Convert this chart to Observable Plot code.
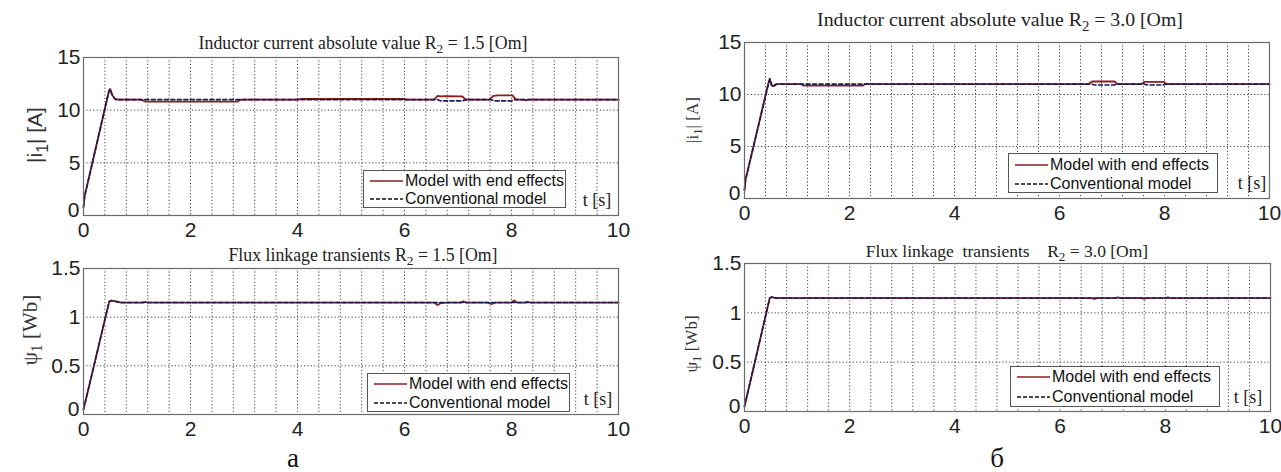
<!DOCTYPE html>
<html>
<head>
<meta charset="utf-8">
<script src="https://cdn.jsdelivr.net/npm/d3@7"></script>
<script src="https://cdn.jsdelivr.net/npm/@observablehq/plot@0.6"></script>
<style>
  html, body { margin: 0; padding: 0; background: #fff; }
  #root { position: relative; width: 1281px; height: 472px; overflow: hidden; background: #fff; }
  .panel { position: absolute; }
  .title { position: absolute; font-family: "Liberation Serif", serif; font-size: 17.8px; color: #222; white-space: pre; transform: translate(-50%, -50%); }
  .title sub, .ylab sub { font-size: 0.75em; vertical-align: -0.35em; line-height: 0; }
  .ylab { position: absolute; font-size: 21px; color: #333; white-space: pre; transform: translate(-50%, -50%) rotate(-90deg); }
  .legend { position: absolute; background: #fff; border: 1px solid #555; box-sizing: border-box; font-family: "Liberation Sans", Arial, sans-serif; font-size: 16px; color: #111; }
  .legend .row { position: absolute; left: 6px; display: flex; align-items: center; white-space: pre; }
  .legend svg { margin-right: 2px; }
  .tlab { position: absolute; font-family: "Liberation Serif", serif; font-size: 18px; color: #222; transform: translate(-50%, -50%); white-space: pre; }
  .sub { position: absolute; font-family: "Liberation Serif", serif; font-size: 27px; color: #111; transform: translate(-50%, -50%); }
</style>
</head>
<body>
<div id="root"></div>
<script>
// ---------- data ----------
const xTicks = [0, 2, 4, 6, 8, 10];
const xGrid = [0.4, 0.8, 1.2, 1.6, 2, 2.4, 2.8, 3.2, 3.6, 4, 4.4, 4.8, 5.2, 5.6, 6, 6.4, 6.8, 7.2, 7.6, 8, 8.4, 8.8, 9.2, 9.6];
const curTicks = [0, 5, 10, 15];
const curGrid = [5, 10];
const fluxTicks = [0, 0.5, 1, 1.5];
const fluxGrid = [0.5, 1];
const seriesNames = ["Model with end effects", "Conventional model"];

// Panel a (R2 = 1.5), inductor current
const tA_curEnd = [0, 0.02, 0.47, 0.5, 0.53, 0.58, 0.65, 1.08, 1.15, 2.88, 2.95, 4.0, 4.05, 6.0, 6.05, 6.55, 6.62, 6.68, 6.75, 7.08, 7.15, 7.58, 7.66, 7.75, 8.02, 8.08, 8.22, 8.27, 8.32, 10];
const iA_curEnd = [0.8, 1.8, 11.7, 12.0, 11.5, 11.1, 11.0, 11.0, 10.82, 10.82, 11.0, 11.0, 11.06, 11.06, 11.0, 11.0, 11.35, 11.3, 11.32, 11.3, 11.0, 11.0, 11.35, 11.4, 11.4, 11.0, 11.0, 10.93, 11.0, 11.0];
const tA_curConv = [0, 0.02, 0.48, 0.5, 0.54, 0.6, 6.62, 6.68, 7.08, 7.15, 7.62, 7.68, 8.0, 8.06, 10];
const iA_curConv = [0.8, 1.8, 11.9, 12.0, 11.4, 11.0, 11.0, 10.88, 10.88, 11.0, 11.0, 10.88, 10.88, 11.0, 11.0];

// Panel a (R2 = 1.5), flux linkage
const tA_fluxEnd = [0, 0.48, 0.52, 0.58, 0.7, 1.1, 1.15, 1.2, 4.0, 6.55, 6.62, 6.68, 6.8, 7.05, 7.1, 7.15, 7.55, 7.62, 7.7, 8.0, 8.05, 8.1, 8.25, 8.3, 8.35, 10];
const fA_fluxEnd = [0.05, 1.16, 1.17, 1.165, 1.15, 1.15, 1.158, 1.15, 1.15, 1.15, 1.125, 1.145, 1.15, 1.15, 1.162, 1.15, 1.15, 1.135, 1.15, 1.15, 1.172, 1.15, 1.15, 1.157, 1.15, 1.15];
const tA_fluxConv = [0, 0.48, 0.52, 0.58, 0.7, 10];
const fA_fluxConv = [0.05, 1.16, 1.17, 1.165, 1.15, 1.15];

// Panel б (R2 = 3.0), inductor current
const tB_curEnd = [0, 0.02, 0.46, 0.48, 0.51, 0.54, 0.6, 1.08, 1.12, 2.25, 2.3, 6.55, 6.62, 7.05, 7.1, 7.56, 7.62, 7.98, 8.04, 10];
const iB_curEnd = [0.8, 1.8, 11.2, 11.5, 10.9, 10.8, 11.0, 11.0, 10.85, 10.85, 11.0, 11.0, 11.25, 11.25, 11.0, 11.0, 11.22, 11.22, 11.0, 11.0];
const tB_curConv = [0, 0.02, 0.47, 0.49, 0.52, 0.56, 0.62, 6.62, 6.66, 7.04, 7.08, 7.62, 7.66, 7.98, 8.02, 10];
const iB_curConv = [0.8, 1.8, 11.3, 11.5, 10.9, 10.8, 11.0, 11.0, 10.92, 10.92, 11.0, 11.0, 10.92, 10.92, 11.0, 11.0];

// Panel б (R2 = 3.0), flux linkage
const tB_fluxEnd = [0, 0.48, 0.52, 0.6, 6.6, 6.65, 6.7, 7.05, 7.1, 7.15, 7.55, 7.6, 7.65, 8.0, 8.05, 8.1, 10];
const fB_fluxEnd = [0.05, 1.15, 1.16, 1.15, 1.15, 1.14, 1.15, 1.15, 1.158, 1.15, 1.15, 1.142, 1.15, 1.15, 1.158, 1.15, 1.15];
const tB_fluxConv = [0, 0.48, 0.52, 0.6, 10];
const fB_fluxConv = [0.05, 1.15, 1.16, 1.15, 1.15];

// ---------- styling ----------
const RED = "#8e1c22";
const CONV = "#1b1b4d";
const root = document.getElementById("root");
const fmt = d3.format("~g");

function pts(ts, vs) { return ts.map((t, i) => ({t, v: vs[i]})); }

function panel(o) {
  const div = document.createElement("div");
  div.className = "panel";
  div.style.left = o.left + "px";
  div.style.top = o.top + "px";
  const chart = Plot.plot({
    width: o.width, height: o.height,
    marginLeft: o.ml, marginRight: o.mr, marginTop: o.mt, marginBottom: o.mb,
    style: {fontFamily: "'Liberation Sans', Arial, sans-serif", fontSize: "21px", color: "#222", background: "transparent", overflow: "visible"},
    x: {domain: [0, 10], label: null},
    y: {domain: o.yDomain, label: null},
    marks: [
      Plot.ruleX(xGrid, {stroke: "#444", strokeWidth: 1, strokeDasharray: "1.2,2.2"}),
      Plot.ruleY(o.yGrid, {stroke: "#444", strokeWidth: 1, strokeDasharray: "1.2,2.2"}),
      Plot.line(pts(o.endT, o.endV), {x: "t", y: "v", stroke: RED, strokeWidth: 1.8}),
      Plot.line(pts(o.convT, o.convV), {x: "t", y: "v", stroke: CONV, strokeWidth: 1.6, strokeDasharray: "4,2.5"}),
      Plot.frame({stroke: "#6b6b6b", strokeWidth: 1.2}),
      Plot.axisX(xTicks, {tickSize: 0, tickPadding: 7, tickFormat: fmt, label: null}),
      Plot.axisY(o.yTicks.slice(1), {tickSize: 0, tickPadding: 3, tickFormat: fmt, label: null}),
      Plot.axisY(o.yTicks.slice(0, 1), {tickSize: 0, tickPadding: 4, dy: -5, tickFormat: fmt, label: null})
    ]
  });
  div.appendChild(chart);
  root.appendChild(div);
}

function html(cls, x, y, content, extra) {
  const d = document.createElement("div");
  d.className = cls;
  d.style.left = x + "px";
  d.style.top = y + "px";
  d.innerHTML = content;
  if (extra) Object.assign(d.style, extra);
  root.appendChild(d);
  return d;
}

function legend(x, y, w, h, r1, r2) {
  const d = html("legend", x, y, "", {width: w + "px", height: h + "px"});
  const rows = [
    {name: seriesNames[0], c: RED, dash: null, y: r1},
    {name: seriesNames[1], c: "#111", dash: "4,2", y: r2}
  ];
  rows.forEach(r => {
    const row = document.createElement("div");
    row.className = "row";
    row.style.top = (r.y - 10) + "px";
    row.style.height = "20px";
    row.innerHTML = `<svg width="33" height="6"><line x1="0" y1="3" x2="33" y2="3" stroke="${r.c}" stroke-width="1.6" ${r.dash ? `stroke-dasharray="${r.dash}"` : ""}/></svg><span>${r.name}</span>`;
    d.appendChild(row);
  });
}

// ---------- panels ----------
panel({left: 0, top: 0, width: 640, height: 245, ml: 83, mr: 22, mt: 57, mb: 30,
  yDomain: [0, 15], yTicks: curTicks, yGrid: curGrid,
  endT: tA_curEnd, endV: iA_curEnd, convT: tA_curConv, convV: iA_curConv});
panel({left: 0, top: 240, width: 640, height: 210, ml: 83, mr: 22, mt: 28, mb: 36,
  yDomain: [0, 1.5], yTicks: fluxTicks, yGrid: fluxGrid,
  endT: tA_fluxEnd, endV: fA_fluxEnd, convT: tA_fluxConv, convV: fA_fluxConv});
panel({left: 640, top: 0, width: 641, height: 240, ml: 104, mr: 12, mt: 42, mb: 42,
  yDomain: [0, 15], yTicks: curTicks, yGrid: curGrid,
  endT: tB_curEnd, endV: iB_curEnd, convT: tB_curConv, convV: iB_curConv});
panel({left: 640, top: 240, width: 641, height: 232, ml: 104, mr: 11, mt: 23, mb: 61,
  yDomain: [0, 1.5], yTicks: fluxTicks, yGrid: fluxGrid,
  endT: tB_fluxEnd, endV: fB_fluxEnd, convT: tB_fluxConv, convV: fB_fluxConv});

// ---------- titles & labels ----------
html("title", 363, 43, "Inductor current absolute value R<sub>2</sub> = 1.5 [Om]");
html("title", 363, 255, "Flux linkage transients R<sub>2</sub> = 1.5 [Om]");
html("title", 1000, 19, "Inductor current absolute value R<sub>2</sub> = 3.0 [Om]", {fontSize: "19.8px"});
html("title", 1007, 251, "Flux linkage  transients    R<sub>2</sub> = 3.0 [Om]", {fontSize: "17.5px"});

html("ylab", 35, 135, "|i<sub>1</sub>| [A]", {fontFamily: "'Liberation Sans', Arial, sans-serif"});
html("ylab", 30, 330, "ψ<sub>1</sub> [Wb]", {fontFamily: "'Liberation Serif', serif"});
html("ylab", 693, 120, "|i<sub>1</sub>| [A]", {fontFamily: "'Liberation Serif', serif", fontSize: "17px"});
html("ylab", 692, 344, "ψ<sub>1</sub> [Wb]", {fontFamily: "'Liberation Serif', serif", fontSize: "17px"});

legend(363, 170, 203, 38, 10, 28);
legend(367, 373, 203, 39, 10, 29);
legend(1008, 153, 210, 40, 11, 30);
legend(1010, 366, 210, 41, 10, 30);

html("tlab", 597, 200, "t [s]");
html("tlab", 598, 399, "t [s]");
html("tlab", 1252, 183, "t [s]");
html("tlab", 1248, 397, "t [s]");

html("sub", 293, 458, "a");
html("sub", 997, 458, "б");
</script>
</body>
</html>
